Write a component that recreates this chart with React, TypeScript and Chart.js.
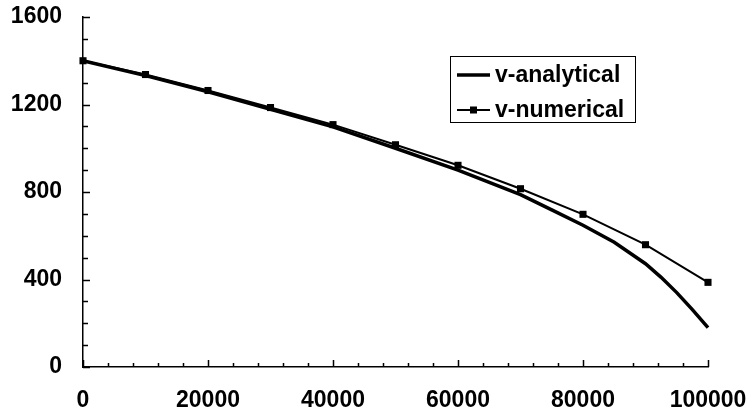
import React, { useEffect, useRef } from "react";
import { Chart, registerables } from "chart.js";

Chart.register(...registerables);

// ---- Data ----
const numericalX = [0, 10000, 20000, 30000, 40000, 50000, 60000, 70000, 80000, 90000, 100000];
const numericalV = [1400, 1337, 1264, 1186, 1108, 1016, 922, 815, 698, 559, 387];

const analyticalX = [0, 10000, 20000, 30000, 40000, 50000, 60000, 70000, 75000, 80000, 85000, 90000, 92500, 95000, 97500, 100000];
const analyticalV = [1400, 1332, 1258, 1178, 1098, 1000, 900, 788, 718, 648, 570, 472, 410, 340, 262, 180];

const seriesLabels = ["v-analytical", "v-numerical"];

const xRange = { min: 0, max: 100000, step: 20000, minor: 4000 };
const yRange = { min: 0, max: 1600, step: 400, minor: 100 };

const FONT = "Arial, 'Liberation Sans', sans-serif";

const axisTicksPlugin = {
  id: "axisTicks",
  beforeDatasetsDraw(chart: any) {
    const { ctx, chartArea, scales } = chart;
    const xs = scales.x;
    const ys = scales.y;
    ctx.save();
    ctx.strokeStyle = "#000";
    ctx.lineWidth = 1.5;
    ctx.beginPath();
    for (let v = xRange.min; v <= xRange.max; v += xRange.minor) {
      const px = Math.round(xs.getPixelForValue(v)) + 0.5;
      const len = v % xRange.step === 0 ? 7 : 4;
      ctx.moveTo(px, chartArea.bottom);
      ctx.lineTo(px, chartArea.bottom - len);
    }
    for (let v = yRange.min; v <= yRange.max; v += yRange.minor) {
      const py = Math.round(ys.getPixelForValue(v)) + 0.5;
      const len = v % yRange.step === 0 ? 7 : 5;
      ctx.moveTo(chartArea.left, py);
      ctx.lineTo(chartArea.left + len, py);
    }
    ctx.stroke();
    ctx.restore();
  },
};

const boxLegendPlugin = {
  id: "boxLegend",
  afterDraw(chart: any) {
    const { ctx } = chart;
    const box = { x: 450.5, y: 56.5, w: 185, h: 66 };
    ctx.save();
    ctx.fillStyle = "#fff";
    ctx.fillRect(box.x, box.y, box.w, box.h);
    ctx.strokeStyle = "#000";
    ctx.lineWidth = 1;
    ctx.strokeRect(box.x, box.y, box.w, box.h);
    ctx.font = `bold 23px ${FONT}`;
    ctx.textBaseline = "middle";
    ctx.textAlign = "left";
    ctx.fillStyle = "#000";
    chart.data.datasets.forEach((ds: any, i: number) => {
      const cy = box.y + 18.5 + i * 35;
      ctx.strokeStyle = ds.borderColor;
      ctx.lineWidth = ds.borderWidth;
      ctx.beginPath();
      ctx.moveTo(457, cy);
      ctx.lineTo(490, cy);
      ctx.stroke();
      if (ds.pointRadius > 0) {
        const s = 7;
        ctx.fillStyle = ds.pointBackgroundColor;
        ctx.fillRect(473.5 - s / 2, cy - s / 2, s, s);
      }
      ctx.fillStyle = "#000";
      ctx.fillText(ds.label, 495, cy + 1);
    });
    ctx.restore();
  },
};

export default function App() {
  const canvasRef = useRef<HTMLCanvasElement | null>(null);

  useEffect(() => {
    if (!canvasRef.current) return;
    const chart = new Chart(canvasRef.current, {
      type: "line",
      data: {
        datasets: [
          {
            label: seriesLabels[0],
            data: analyticalX.map((x, i) => ({ x, y: analyticalV[i] })),
            borderColor: "#000",
            borderWidth: 3.5,
            pointRadius: 0,
            tension: 0,
            fill: false,
            clip: false,
          },
          {
            label: seriesLabels[1],
            data: numericalX.map((x, i) => ({ x, y: numericalV[i] })),
            borderColor: "#000",
            borderWidth: 2,
            pointStyle: "rect",
            pointRadius: 5,
            pointBackgroundColor: "#000",
            pointBorderColor: "#000",
            pointBorderWidth: 0,
            tension: 0,
            fill: false,
            clip: false,
          },
        ] as any,
      },
      options: {
        animation: false,
        responsive: false,
        events: [],
        layout: { padding: { left: 11, right: 42, top: 17, bottom: 0 } },
        plugins: {
          legend: { display: false },
          tooltip: { enabled: false },
        },
        scales: {
          x: {
            type: "linear",
            min: xRange.min,
            max: xRange.max,
            grid: { display: false, drawTicks: false },
            border: { display: true, color: "#000", width: 1.5 },
            afterFit: (scale: any) => {
              scale.height = 47;
              scale.paddingLeft = 0;
              scale.paddingRight = 0;
            },
            ticks: {
              stepSize: xRange.step,
              color: "#000",
              padding: 20,
              maxRotation: 0,
              font: { family: FONT, size: 23, weight: "bold" },
              callback: (v: any) => String(v),
            },
          },
          y: {
            type: "linear",
            min: yRange.min,
            max: yRange.max,
            grid: { display: false, drawTicks: false },
            border: { display: true, color: "#000", width: 1.5 },
            afterFit: (scale: any) => {
              scale.width = 72;
              scale.paddingTop = 0;
              scale.paddingBottom = 0;
            },
            ticks: {
              stepSize: yRange.step,
              color: "#000",
              padding: 21,
              font: { family: FONT, size: 23, weight: "bold" },
              callback: (v: any) => String(v),
            },
          },
        },
      },
      plugins: [axisTicksPlugin, boxLegendPlugin],
    });
    return () => chart.destroy();
  }, []);

  return (
    <div style={{ position: "absolute", left: 0, top: 0, width: 750, height: 414, background: "#fff" }}>
      <canvas ref={canvasRef} width={750} height={414} style={{ display: "block" }} />
    </div>
  );
}
